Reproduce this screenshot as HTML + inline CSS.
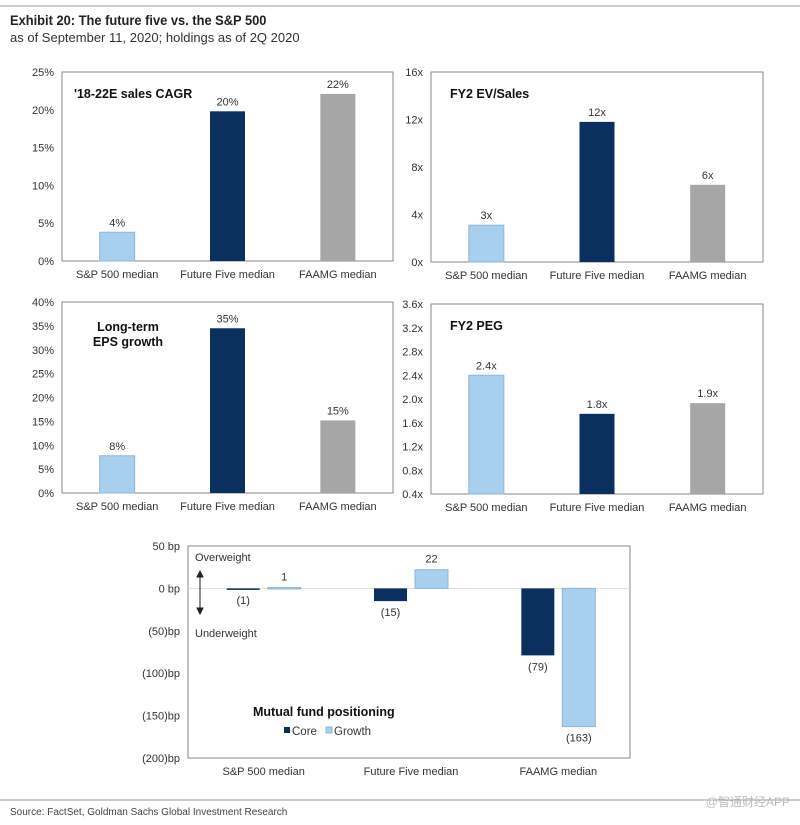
<!DOCTYPE html>
<html><head><meta charset="utf-8">
<style>
body{margin:0;background:#fff;font-family:"Liberation Sans",Arial,sans-serif;}
svg text{font-family:"Liberation Sans",Arial,sans-serif;}
</style></head>
<body>
<svg width="800" height="820" viewBox="0 0 800 820" xmlns="http://www.w3.org/2000/svg">
<line x1="0" y1="6" x2="800" y2="6" stroke="#999"/>
<text x="10" y="25" font-size="14" font-weight="bold" fill="#222" transform="scale(0.92,1)" style="transform-origin:10px 25px">Exhibit 20: The future five vs. the S&amp;P 500</text>
<text x="10" y="42" font-size="13" fill="#333">as of September 11, 2020; holdings as of 2Q 2020</text>
<g id="charts"></g>
<line x1="0" y1="800" x2="800" y2="800" stroke="#999"/>
<text x="10" y="815" font-size="10" fill="#444">Source: FactSet, Goldman Sachs Global Investment Research</text>
<text x="790" y="806" font-size="12" fill="#bbb" text-anchor="end">@智通财经APP</text>
</svg>
<script>
const categories = ["S&P 500 median","Future Five median","FAAMG median"];
const salesCagr = [3.8, 19.8, 22.1];
const salesLabels = ["4%","20%","22%"];
const evSales = [3.1, 11.8, 6.5];
const evLabels = ["3x","12x","6x"];
const epsGrowth = [7.8, 34.5, 15.2];
const epsLabels = ["8%","35%","15%"];
const peg = [2.4, 1.75, 1.93];
const pegLabels = ["2.4x","1.8x","1.9x"];
const coreVals = [-1, -15, -79];
const growthVals = [1, 22, -163];
const coreLabels = ["(1)","(15)","(79)"];
const growthLabels = ["1","22","(163)"];
const ticks1 = ["0%","5%","10%","15%","20%","25%"];
const ticks2 = ["0x","4x","8x","12x","16x"];
const ticks3 = ["0%","5%","10%","15%","20%","25%","30%","35%","40%"];
const ticks4 = ["0.4x","0.8x","1.2x","1.6x","2.0x","2.4x","2.8x","3.2x","3.6x"];
const ticks5 = ["(200)bp","(150)bp","(100)bp","(50)bp","0 bp","50 bp"];
const colors = ["#a9cfee","#0b3060","#a6a6a6"];
const NS="http://www.w3.org/2000/svg";
const root=document.getElementById('charts');
function mk(tag,attrs,parent,txt){const e=document.createElementNS(NS,tag);for(const k in attrs)e.setAttribute(k,attrs[k]);if(txt!==undefined)e.textContent=txt;(parent||root).appendChild(e);return e;}

function barChart(name,x0,x1,yTop,yBot,min,max,ticks,vals,labels,title,titleX,titleY){
  const g=mk('g',{});
  
  
  const ys=v=>yBot-(v-min)/(max-min)*(yBot-yTop);
  const f=mk('rect',{x:x0,y:yTop,width:x1-x0,height:yBot-yTop,fill:'none',stroke:'#888','stroke-width':1},g);
  
  
  ticks.forEach((t,i)=>{const v=min+i*(max-min)/(ticks.length-1);
    const tx=mk('text',{x:x0-8,y:ys(v)+4,'font-size':11,'text-anchor':'end',fill:'#333'},g,t);
    
    });
  const bw=(x1-x0)/3;
  vals.forEach((v,i)=>{const cx=x0+bw*(i+0.5);
    const r=mk('rect',{x:cx-17.5,y:ys(v),width:35,height:yBot-ys(v),fill:colors[i],stroke:i==0?'#8fb6d6':'none'},g);
    
    
    const l=mk('text',{x:cx,y:ys(v)-6,'font-size':11,'text-anchor':'middle',fill:'#333'},g,labels[i]);
    
    
    const c=mk('text',{x:cx,y:yBot+17,'font-size':11,'text-anchor':'middle',fill:'#333'},g,categories[i]);
    
    });
  title.forEach((t,i)=>{const tt=mk('text',{x:titleX,y:titleY+i*15,'font-size':12.5,'font-weight':'bold',fill:'#111','text-anchor':title.length>1?'middle':'start'},g,t);
    
    });
}
barChart('sales-cagr-chart',62,393,72,261,0,25,ticks1,salesCagr,salesLabels,["'18-22E sales CAGR"],74,98);
barChart('ev-sales-chart',431,763,72,262,0,16,ticks2,evSales,evLabels,["FY2 EV/Sales"],450,98);
barChart('eps-growth-chart',62,393,302,493,0,40,ticks3,epsGrowth,epsLabels,["Long-term","EPS growth"],128,331);
barChart('peg-chart',431,763,304,494,0.4,3.6,ticks4,peg,pegLabels,["FY2 PEG"],450,330);

(function(){
  const g=mk('g',{});
  
  
  const x0=188,x1=630,yTop=546,yBot=758,min=-200,max=50;
  const ys=v=>yBot-(v-min)/(max-min)*(yBot-yTop);
  const f=mk('rect',{x:x0,y:yTop,width:x1-x0,height:yBot-yTop,fill:'none',stroke:'#888'},g);
  
  
  const z=mk('line',{x1:x0,x2:x1,y1:ys(0),y2:ys(0),stroke:'#ddd'},g);
  
  
  ticks5.forEach((t,i)=>{const v=min+i*50;
    const tx=mk('text',{x:x0-8,y:ys(v)+4,'font-size':11,'text-anchor':'end',fill:'#333'},g,t);
    
    });
  const bw=(x1-x0)/3;
  categories.forEach((c,i)=>{const cx=x0+bw*(i+0.5)+2;
    [[coreVals,coreLabels,'#0b3060',-37],[growthVals,growthLabels,'#a9cfee',4]].forEach((s,j)=>{
      const v=s[0][i];const y=Math.min(ys(v),ys(0));const h=Math.max(Math.abs(ys(v)-ys(0)),1.5);
      const r=mk('rect',{x:cx+s[3],y:y,width:33,height:h,fill:s[2],stroke:j?'#8fb6d6':'none'},g);
      
      
      const ly=v>=0?ys(v)-7:ys(v)+15;
      const l=mk('text',{x:cx+s[3]+16.5,y:ly,'font-size':11,'text-anchor':'middle',fill:'#333'},g,s[1][i]);
      
      });
    const cl=mk('text',{x:cx,y:yBot+17,'font-size':11,'text-anchor':'middle',fill:'#333'},g,c);
    
    });
  const t1=mk('text',{x:195,y:561,'font-size':11,fill:'#333'},g,'Overweight');
  
  const t2=mk('text',{x:195,y:637,'font-size':11,fill:'#333'},g,'Underweight');
  
  const ar=mk('path',{d:'M200,573 L200,612 M197,577 L200,571 L203,577 Z M197,608 L200,614 L203,608 Z',stroke:'#222',fill:'#222','stroke-width':1},g);
  
  const tt=mk('text',{x:253,y:716,'font-size':12.5,'font-weight':'bold',fill:'#111'},g,'Mutual fund positioning');
  
  const lg1=mk('rect',{x:284,y:727,width:6,height:6,fill:'#0b3060'},g);
  
  const lt1=mk('text',{x:292,y:735,'font-size':11.5,fill:'#333'},g,'Core');
  
  const lg2=mk('rect',{x:326,y:727,width:6,height:6,fill:'#a9cfee',stroke:'#8fb6d6'},g);
  
  const lt2=mk('text',{x:334,y:735,'font-size':11.5,fill:'#333'},g,'Growth');
  
})();
</script>
</body></html>
